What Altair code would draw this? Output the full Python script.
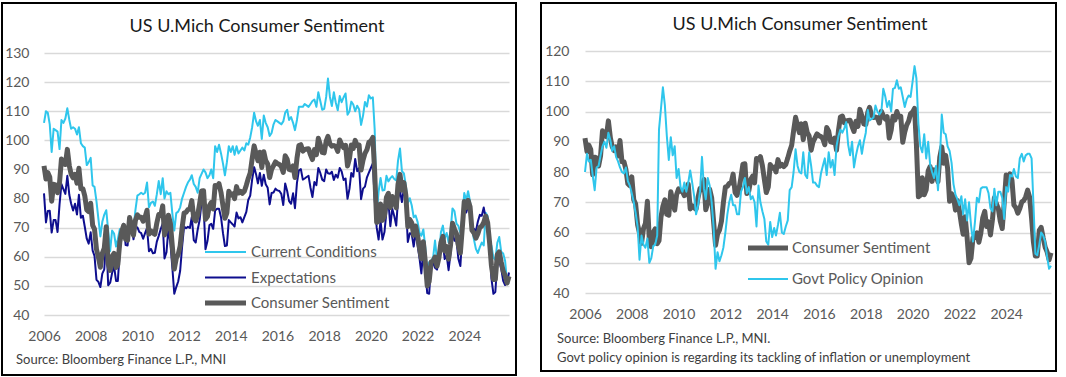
import altair as alt
import pandas as pd

# ---------------- data (monthly, Jan 2006 - Dec 2025) ----------------
START = "2006-01-01"
N_MONTHS = 240

consumer_sentiment = [
    91.2, 86.7, 88.9, 87.4, 79.1, 84.9, 84.7, 82.0, 85.4, 93.6, 92.1, 91.7,   # 2006
    96.9, 91.3, 88.4, 87.1, 88.3, 85.3, 90.4, 83.4, 83.4, 80.9, 76.1, 75.5,   # 2007
    78.4, 70.8, 69.5, 62.6, 59.8, 56.4, 61.2, 63.0, 70.3, 57.6, 55.3, 60.1,   # 2008
    61.2, 56.3, 57.3, 65.1, 68.7, 70.8, 66.0, 65.7, 73.5, 70.6, 67.4, 72.5,   # 2009
    74.4, 73.6, 73.6, 72.2, 73.6, 76.0, 67.8, 68.9, 68.2, 67.7, 71.6, 74.5,   # 2010
    74.2, 77.5, 67.5, 69.8, 74.3, 71.5, 63.7, 55.8, 59.5, 60.8, 63.7, 69.9,   # 2011
    75.0, 75.3, 76.2, 76.4, 79.3, 73.2, 72.3, 74.3, 78.3, 82.6, 82.7, 72.9,   # 2012
    73.8, 77.6, 78.6, 76.4, 84.5, 84.1, 85.1, 82.1, 77.5, 73.2, 75.1, 82.5,   # 2013
    81.2, 81.6, 80.0, 84.1, 81.9, 82.5, 81.8, 82.5, 84.6, 86.9, 88.8, 93.6,   # 2014
    98.1, 95.4, 93.0, 95.9, 90.7, 96.1, 93.1, 91.9, 87.2, 90.0, 91.3, 92.6,   # 2015
    92.0, 91.7, 91.0, 89.0, 94.7, 93.5, 90.0, 89.8, 91.2, 87.2, 93.8, 98.2,   # 2016
    98.5, 96.3, 96.9, 97.0, 97.1, 95.0, 93.4, 96.8, 95.1, 100.7, 98.5, 95.9,  # 2017
    95.7, 99.7, 101.4, 98.8, 98.0, 98.2, 97.9, 96.2, 100.1, 98.6, 97.5, 98.3, # 2018
    91.2, 93.8, 98.4, 97.2, 100.0, 98.2, 98.4, 89.8, 93.2, 95.5, 96.8, 99.3,  # 2019
    99.8, 101.0, 89.1, 71.8, 72.3, 78.1, 72.5, 74.1, 80.4, 81.8, 76.9, 80.7,  # 2020
    79.0, 76.8, 84.9, 88.3, 82.9, 85.5, 81.2, 70.3, 72.8, 71.7, 67.4, 70.6,   # 2021
    67.2, 62.8, 59.4, 65.2, 58.4, 50.0, 51.5, 58.2, 58.6, 59.9, 56.8, 59.7,   # 2022
    64.9, 67.0, 62.0, 63.5, 59.2, 64.2, 71.5, 69.5, 67.9, 63.8, 61.3, 69.7,   # 2023
    79.0, 76.9, 79.4, 77.2, 69.1, 68.2, 66.4, 67.9, 70.1, 70.5, 71.8, 74.0,   # 2024
    71.7, 64.7, 57.0, 52.2, 52.2, 60.7, 61.7, 58.2, 55.1, 53.6, 51.0, 53.3,   # 2025
]

current_conditions = [
    106.0, 110.0, 109.5, 105.5, 96.0, 104.0, 103.5, 103.0, 97.0, 107.0, 106.0, 107.5,
    111.0, 107.0, 104.0, 104.5, 104.0, 102.0, 104.5, 99.0, 98.0, 97.5, 91.5, 92.5,
    94.0, 84.5, 84.0, 79.0, 73.0, 67.0, 72.0, 74.5, 76.0, 69.0, 62.0, 69.0,
    68.0, 63.5, 66.0, 69.5, 69.0, 70.0, 69.0, 68.5, 73.5, 71.0, 69.5, 76.0,
    81.0, 81.5, 82.0, 81.5, 82.0, 85.5, 77.0, 78.5, 79.0, 77.5, 81.5, 86.0,
    81.5, 87.0, 80.0, 82.5, 81.5, 82.0, 75.0, 69.0, 75.0, 75.5, 77.0, 80.0,
    82.0, 84.0, 85.5, 86.5, 88.0, 85.0, 84.0, 82.0, 87.0, 88.5, 90.0, 89.0,
    87.0, 88.0, 90.0, 87.0, 98.0, 96.0, 98.5, 95.5, 92.0, 88.0, 92.5, 98.0,
    96.0, 98.0, 95.0, 98.0, 95.5, 96.5, 97.5, 96.5, 99.0, 98.5, 101.0, 104.5,
    109.5, 106.5, 105.0, 107.0, 100.5, 108.5, 106.0, 104.5, 101.5, 102.5, 105.5, 107.0,
    106.5, 106.0, 105.5, 106.5, 109.5, 110.5, 107.0, 108.0, 106.0, 103.5, 107.0, 111.5,
    111.5, 111.5, 112.5, 112.0, 111.5, 112.5, 113.5, 114.0, 111.5, 116.5, 113.5, 110.5,
    110.8, 114.9, 121.2, 114.9, 111.8, 116.5, 113.0, 110.3, 115.2, 113.1, 114.8, 116.1,
    108.8, 110.0, 113.3, 112.3, 110.0, 111.9, 110.7, 105.3, 108.5, 113.2, 111.6, 115.5,
    114.4, 114.8, 103.7, 74.3, 82.3, 87.1, 82.8, 82.9, 87.8, 85.9, 87.0, 87.7,
    86.7, 86.2, 93.0, 97.2, 89.4, 88.6, 84.5, 78.5, 80.1, 77.7, 73.6, 74.2,
    72.0, 68.2, 67.2, 69.4, 63.3, 53.8, 58.1, 58.6, 59.7, 65.6, 58.8, 59.4,
    68.4, 70.7, 66.3, 68.2, 64.9, 69.0, 76.6, 75.7, 71.4, 70.6, 68.3, 73.3,
    81.9, 79.4, 82.5, 79.0, 69.6, 65.9, 62.7, 61.3, 63.3, 64.9, 63.9, 75.1,
    74.0, 65.7, 63.8, 59.8, 58.9, 64.8, 66.8, 61.7, 61.1, 58.6, 51.1, 50.7,
]

expectations = [
    81.8, 71.8, 75.7, 75.8, 68.3, 72.6, 72.6, 68.5, 78.0, 85.0, 83.2, 81.6,
    87.8, 81.3, 78.3, 75.9, 78.2, 74.5, 81.3, 73.4, 74.1, 70.3, 66.2, 64.5,
    68.4, 62.1, 60.3, 52.1, 51.4, 49.6, 54.2, 55.7, 66.7, 50.2, 51.1, 54.4,
    56.8, 51.7, 51.7, 62.2, 68.5, 71.3, 64.0, 63.9, 73.6, 70.3, 66.0, 70.3,
    70.1, 68.5, 68.1, 66.2, 68.1, 69.9, 61.9, 62.7, 61.2, 61.4, 65.2, 67.2,
    69.5, 71.4, 59.4, 61.6, 69.6, 64.7, 56.5, 47.3, 49.6, 51.5, 55.2, 63.4,
    70.4, 69.8, 70.3, 69.9, 73.7, 65.7, 64.9, 69.3, 72.7, 78.8, 78.0, 62.6,
    65.4, 70.9, 71.3, 69.6, 75.9, 76.5, 76.5, 73.6, 68.1, 63.7, 63.9, 72.6,
    71.8, 71.1, 70.4, 75.2, 73.2, 73.6, 71.8, 73.6, 75.4, 79.5, 81.0, 86.5,
    90.8, 88.3, 85.2, 88.8, 84.4, 88.2, 84.9, 83.7, 78.0, 81.9, 82.1, 83.4,
    82.8, 82.6, 81.6, 77.8, 85.2, 82.6, 79.1, 78.2, 81.8, 76.7, 85.4, 89.7,
    90.1, 86.5, 86.9, 87.4, 87.8, 83.7, 80.5, 85.7, 84.6, 90.5, 88.8, 86.5,
    86.0, 90.0, 88.7, 88.5, 89.2, 86.4, 88.2, 87.2, 90.5, 89.3, 86.4, 86.9,
    79.9, 83.4, 88.8, 87.5, 93.6, 89.4, 90.5, 79.8, 83.4, 84.1, 87.3, 88.9,
    90.5, 92.1, 79.7, 70.1, 65.9, 72.3, 65.9, 68.5, 75.6, 79.2, 70.5, 76.5,
    74.0, 70.7, 79.7, 82.7, 78.8, 83.5, 79.0, 65.1, 68.1, 67.9, 63.5, 68.3,
    64.1, 59.4, 54.3, 62.5, 55.2, 47.5, 47.3, 58.0, 58.0, 56.2, 55.6, 59.9,
    62.7, 64.7, 59.2, 60.5, 55.4, 61.3, 68.3, 65.5, 65.7, 59.3, 56.8, 67.4,
    77.1, 75.2, 77.4, 76.0, 68.8, 69.6, 68.8, 72.1, 74.4, 74.1, 76.9, 73.3,
    70.2, 64.0, 52.6, 47.3, 47.9, 58.1, 58.6, 55.9, 51.7, 50.3, 51.0, 54.6,
]

govt_policy_opinion = [
    80.0, 86.0, 83.5, 84.0, 79.0, 74.0, 81.5, 82.0, 85.5, 88.5, 90.0, 88.0,
    93.0, 90.5, 87.0, 88.5, 85.0, 83.5, 81.5, 80.0, 79.5, 81.5, 77.0, 75.5,
    73.0, 70.0, 66.5, 62.0, 51.0, 59.0, 56.0, 55.0, 58.0, 50.0, 51.5, 55.5,
    56.0, 59.0, 94.0, 101.0, 108.0, 102.0, 92.0, 84.0, 91.5, 85.5, 88.5, 78.0,
    81.0, 75.0, 73.5, 76.5, 73.5, 76.5, 80.5, 76.5, 72.0, 66.0, 69.0, 73.5,
    85.0, 74.5, 71.0, 78.0, 75.5, 70.0, 62.0, 48.0, 53.5, 50.5, 52.5, 55.0,
    60.0, 66.0, 70.0, 72.5, 69.0, 69.0, 66.0, 66.0, 73.5, 75.0, 78.0, 73.0,
    75.0, 71.0, 72.0, 70.0, 62.0, 75.5, 70.0, 67.0, 64.5, 57.0, 56.0, 63.5,
    58.5, 61.5, 59.0, 62.5, 66.5, 60.0, 59.5, 62.0, 64.0, 74.0, 75.0, 80.0,
    87.5, 82.0, 80.0, 79.5, 86.5, 79.0, 78.0, 86.5, 82.0, 76.5, 76.5, 75.5,
    75.0, 79.5, 82.0, 84.5, 79.0, 86.5, 81.5, 84.0, 79.0, 88.5, 92.0, 94.0,
    93.0, 94.5, 96.5, 89.0, 85.5, 90.0, 81.5, 85.5, 88.5, 90.5, 86.0, 90.0,
    93.0, 100.5, 97.0, 97.5, 98.0, 102.0, 100.0, 99.0, 100.0, 107.5, 105.0, 101.5,
    103.5, 100.0, 107.5, 107.8, 110.3, 107.5, 108.0, 104.8, 101.5, 104.0, 105.3, 104.8,
    109.8, 115.0, 111.0, 96.0, 88.5, 86.5, 92.5, 84.5, 90.0, 82.5, 80.0, 78.0,
    82.0, 74.0, 83.5, 99.0, 93.0, 92.5, 88.5, 87.0, 83.0, 76.0, 72.5, 71.0,
    69.0, 72.0, 66.0, 71.0, 64.0, 70.0, 62.5, 57.0, 63.5, 71.5, 70.0, 74.5,
    75.0, 75.0, 75.0, 73.0, 68.0, 67.0, 74.5, 69.0, 73.5, 73.5, 71.5, 64.5,
    75.0, 73.5, 79.0, 78.5, 81.0, 78.5, 78.0, 84.5, 86.0, 83.5, 85.5, 86.0,
    86.0, 84.5, 70.0, 53.0, 52.5, 56.0, 60.0, 59.0, 57.0, 52.0, 48.0, 49.0,
]

left_ticks = [40, 50, 60, 70, 80, 90, 100, 110, 120, 130]
right_ticks = [40, 50, 60, 70, 80, 90, 100, 110, 120]
tick_years = list(range(2006, 2025, 2))

TITLE = "US U.Mich Consumer Sentiment"
SOURCE_LEFT = "Source: Bloomberg Finance L.P., MNI"
SOURCE_RIGHT = ["Source: Bloomberg Finance L.P., MNI.",
                "Govt policy opinion is regarding its tackling of inflation or unemployment"]

dates = pd.date_range(START, periods=N_MONTHS, freq="MS")

# ---------------- styling ----------------
LIGHT = "#2FC6EC"
NAVY = "#0E0E8E"
GREY = "#595959"
TEXT_GREY = "#595959"
FONT = "Lato"

x_domain = [alt.DateTime(year=2006, month=1, date=1), alt.DateTime(year=2025, month=12, date=1)]
x_values = [alt.DateTime(year=y, month=1, date=1) for y in tick_years]

one_row = pd.DataFrame({"k": [0]})


def x_enc(pad):
    return alt.X("date:T", title=None, scale=alt.Scale(domain=x_domain),
                 axis=alt.Axis(values=x_values, format="%Y", grid=False,
                               labelPadding=pad, labelFlush=False, labelOverlap=False))


def y_enc(domain, ticks, pad, rng=None):
    if rng is None:
        sc = alt.Scale(domain=domain, nice=False, zero=False)
    else:
        sc = alt.Scale(domain=domain, nice=False, zero=False, range=rng)
    return alt.Y("value:Q", title=None, scale=sc,
                 axis=alt.Axis(values=ticks, grid=True, labelPadding=pad))


def series_layer(values, color, width, xe, ye):
    df = pd.DataFrame({"date": dates, "value": values})
    return alt.Chart(df).mark_line(color=color, strokeWidth=width, strokeJoin="round").encode(x=xe, y=ye)


def legend_layers(items, x0, x1, xt, y0, step):
    out = []
    for i, (name, color, width) in enumerate(items):
        y = y0 + step * i
        out.append(alt.Chart(one_row).mark_rule(color=color, strokeWidth=width).encode(
            x=alt.value(x0), x2=alt.value(x1), y=alt.value(y)))
        out.append(alt.Chart(pd.DataFrame({"label": [name]})).mark_text(
            align="left", baseline="middle", font=FONT, fontSize=15, color=TEXT_GREY).encode(
            x=alt.value(xt), y=alt.value(y), text="label:N"))
    return out


def text_layer(txt, x, y, size=13, align="left", color="#404040"):
    return alt.Chart(pd.DataFrame({"t": [txt]})).mark_text(
        align=align, baseline="middle", font=FONT, fontSize=size, color=color).encode(
        x=alt.value(x), y=alt.value(y), text="t:N")


def border_layer(x0, x1, y0, y1):
    return alt.Chart(one_row).mark_rect(fillOpacity=0, stroke="black", strokeWidth=2).encode(
        x=alt.value(x0), x2=alt.value(x1), y=alt.value(y0), y2=alt.value(y1))


# ---------------- left panel ----------------
xl = x_enc(14)
yl = y_enc([40, 130], left_ticks, 15)
left_items = [("Current Conditions", LIGHT, 2), ("Expectations", NAVY, 2), ("Consumer Sentiment", GREY, 5)]
left_series = {"Current Conditions": current_conditions, "Expectations": expectations,
               "Consumer Sentiment": consumer_sentiment}

left = alt.layer(
    border_layer(-42, 472, -50, 322),
    text_layer(TITLE, 213, -26.5, size=18, align="center", color="#1a1a1a"),
    *[series_layer(left_series[n], c, w, xl, yl) for n, c, w in left_items],
    *legend_layers(left_items, 161, 202, 207, 199, 25.5),
    text_layer(SOURCE_LEFT, -28, 307),
).properties(width=465, height=262)

# ---------------- right panel ----------------
xr = x_enc(12)
yr = y_enc([40, 120], right_ticks, 16, rng=[240, -2])
right_items = [("Consumer Sentiment", GREY, 5), ("Govt Policy Opinion", LIGHT, 2)]
right_series = {"Consumer Sentiment": consumer_sentiment, "Govt Policy Opinion": govt_policy_opinion}

right = alt.layer(
    border_layer(-44, 471, -50, 318),
    text_layer(TITLE, 215, -28, size=18, align="center", color="#1a1a1a"),
    *[series_layer(right_series[n], c, w, xr, yr) for n, c, w in right_items],
    *legend_layers(right_items, 163, 203, 207, 195, 31),
    text_layer(SOURCE_RIGHT[0], -28, 286),
    text_layer(SOURCE_RIGHT[1], -28, 304.5),
).properties(width=466, height=242)

chart = alt.hconcat(left, right, spacing=76, bounds="flush").properties(
    padding={"left": 1, "top": 2, "right": 5, "bottom": 1}, background="white",
).configure_view(strokeWidth=0).configure_axis(
    domain=False, ticks=False, tickSize=0, labelFont=FONT, labelFontSize=14,
    labelColor=TEXT_GREY, gridColor="#D9D9D9", gridWidth=1.5,
)

chart.save("out.html", embed_options={"renderer": "svg", "actions": False})
